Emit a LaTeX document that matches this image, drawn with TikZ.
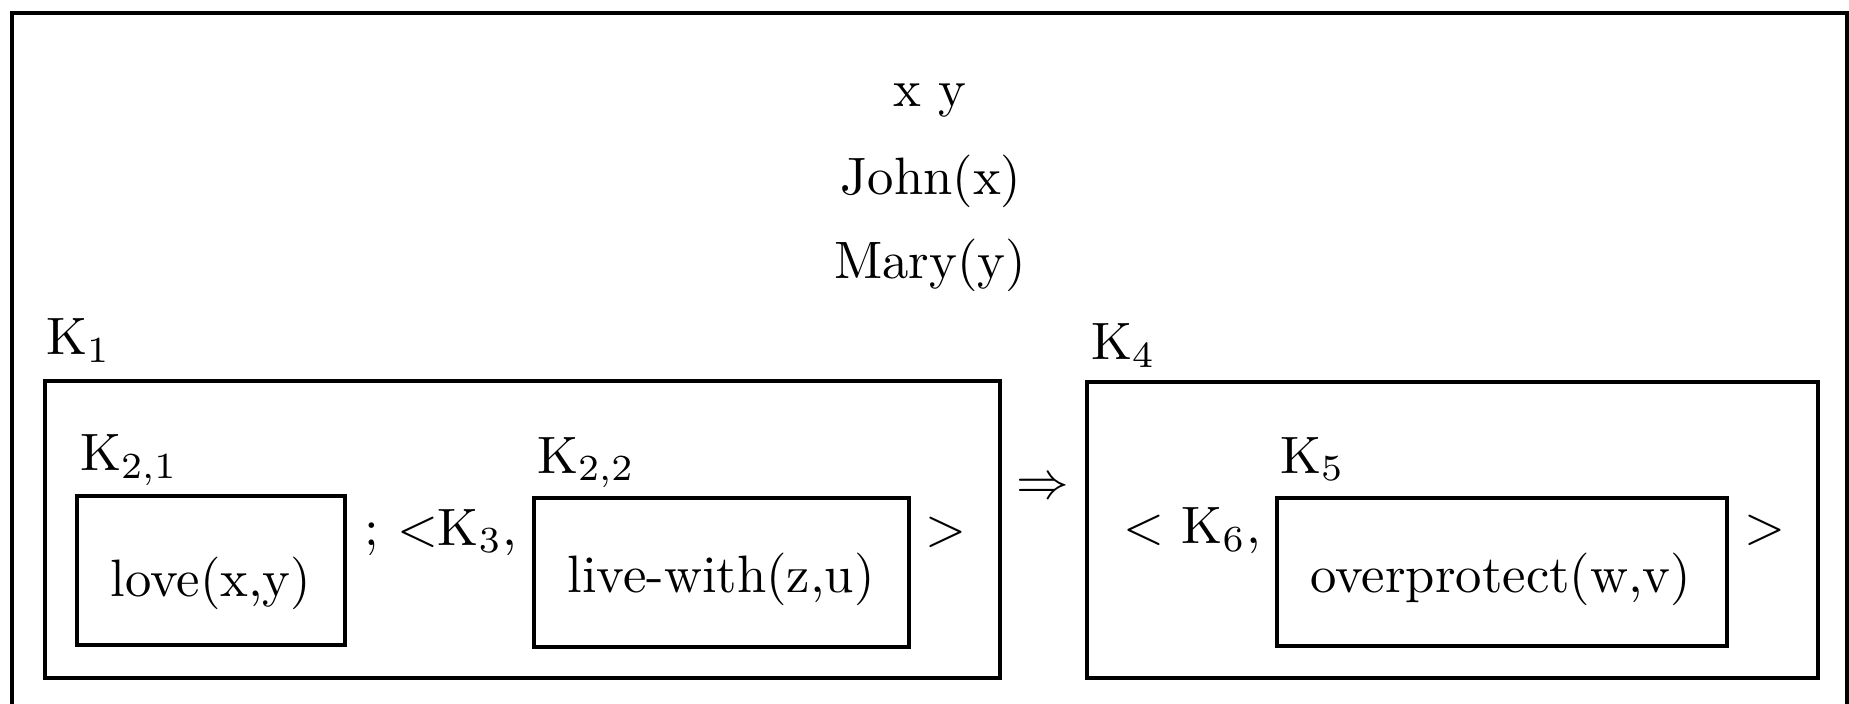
\documentclass[tikz,border=0pt]{standalone}
\usetikzlibrary{fit}
\begin{document}
\begin{tikzpicture}[x=0.19pt,y=-0.19pt,
  frame/.style={line width=0.6pt},
  box/.style={draw, line width=0.6pt, inner sep=0pt, rectangle},
  lbl/.style={anchor=base west, inner sep=0pt},
  txt/.style={anchor=base, inner sep=0pt}]
\useasboundingbox (0,0) rectangle (1849,704);
% outer frame (open at the bottom)
\coordinate (fbl) at (12,704);
\coordinate (ftl) at (12,13);
\coordinate (ftr) at (1847,13);
\coordinate (fbr) at (1847,704);
\draw[frame] (fbl) -- (ftl) -- (ftr) -- (fbr);
% universe
\node[txt] (vars) at (930,107) {x y};
\node[txt] (john) at (931,195) {John(x)};
\node[txt] (mary) at (930,279) {Mary(y)};
% K1
\node[lbl] (k1lab) at (45,355) {K$_1$};
\node[box, fit={(45,381) (1000,678)}] (K1) {};
\node[lbl] (k21lab) at (79,471) {K$_{2,1}$};
\node[box, fit={(77,496) (345,645)}] (K21) {};
\node[txt] (love) at (211,596) {love(x,y)};
\node[txt] (semi) at (441,545) {; $<$K$_3$,};
\node[lbl] (k22lab) at (536,473) {K$_{2,2}$};
\node[box, fit={(534,498) (909,647)}] (K22) {};
\node[txt] (live) at (721,592) {live-with(z,u)};
\node[txt] (gt1) at (946,545) {$>$};
% implication
\node[inner sep=0pt] (imp) at (1043,489) {$\Rightarrow$};
% K4
\node[lbl] (k4lab) at (1090,360) {K$_4$};
\node[box, fit={(1087,382) (1818,678)}] (K4) {};
\node[lbl] (k5lab) at (1279,473) {K$_5$};
\node[box, fit={(1277,498) (1727,646)}] (K5) {};
\node[txt] (over) at (1501,592) {overprotect(w,v)};
\node[txt] (lt6) at (1192,544) {$<$ K$_6$,};
\node[txt] (gt2) at (1765,544) {$>$};
\end{tikzpicture}
\end{document}
